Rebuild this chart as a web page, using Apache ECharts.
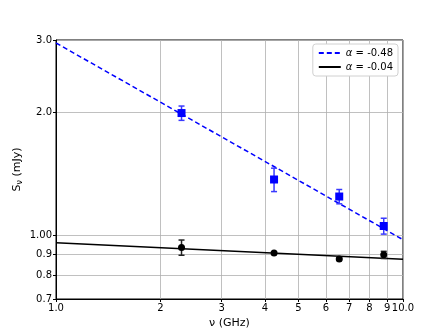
<!DOCTYPE html>
<html>
<head>
<meta charset="utf-8">
<script src="https://cdn.jsdelivr.net/npm/echarts@6/dist/echarts.min.js"></script>
<style>
  html, body { margin: 0; padding: 0; background: #fff; }
  #chart { width: 448px; height: 336px; }
</style>
</head>
<body>
<div id="chart"></div>
<script>
// measured frequencies (GHz)
var freqs = [2.3, 4.25, 6.55, 8.8];
// blue set
var blueFlux = [1.99, 1.37, 1.245, 1.055];
var blueErr = [0.08, 0.09, 0.05, 0.047];
// black set
var blackFlux = [0.935, 0.907, 0.877, 0.897];
var blackErr = [0.04, 0.006, 0.004, 0.018];
// power-law fits, evaluated at the ends of the axis
var fitX = [1, 10];
var blueFitY = [2.95, 0.977];
var blackFitY = [0.96, 0.875];
var blueLabel = '-0.48';
var blackLabel = '-0.04';
// ticks
var xTicks = [1, 2, 3, 4, 5, 6, 7, 8, 9, 10];
var yTicks = [0.7, 0.8, 0.9, 1, 2, 3];
var yTickLabels = ['0.7', '0.8', '0.9', '1.00', '2.0', '3.0'];

function pairs(xs, ys) {
    return xs.map(function (x, i) { return [x, ys[i]]; });
}
function triples(xs, ys, es) {
    return xs.map(function (x, i) { return [x, ys[i], es[i]]; });
}

function errorBars(color) {
    return function (params, api) {
        var x = api.value(0), y = api.value(1), e = api.value(2);
        var lo = api.coord([x, y - e]);
        var hi = api.coord([x, y + e]);
        var cap = 3;
        var style = { stroke: color, lineWidth: 1.5 };
        return {
            type: 'group',
            children: [
                { type: 'line', shape: { x1: lo[0], y1: lo[1], x2: hi[0], y2: hi[1] }, style: style },
                { type: 'line', shape: { x1: lo[0] - cap, y1: lo[1], x2: lo[0] + cap, y2: lo[1] }, style: style },
                { type: 'line', shape: { x1: hi[0] - cap, y1: hi[1], x2: hi[0] + cap, y2: hi[1] }, style: style }
            ]
        };
    };
}

var font = 'DejaVu Sans';
var chart = echarts.init(document.getElementById('chart'), null, { renderer: 'canvas' });

chart.setOption({
    animation: false,
    textStyle: { fontFamily: font },
    grid: {
        left: 56, right: 45, top: 40, bottom: 37,
        show: true, borderColor: '#000', borderWidth: 1, backgroundColor: 'transparent'
    },
    legend: {
        right: 50, top: 44,
        orient: 'vertical',
        data: ['blue', 'black'],
        itemWidth: 22, itemHeight: 8, itemGap: 4,
        padding: [4, 5, 4, 5],
        borderColor: '#d0d0d0', borderWidth: 1, borderRadius: 3,
        backgroundColor: '#fff',
        itemStyle: { opacity: 0 },
        formatter: function (name) {
            return '{i|α} = ' + (name === 'blue' ? blueLabel : blackLabel);
        },
        textStyle: {
            fontFamily: font, fontSize: 10, color: '#000',
            rich: { i: { fontFamily: font, fontSize: 10, fontStyle: 'italic', color: '#000' } }
        }
    },
    xAxis: {
        type: 'log', min: 1, max: 10,
        name: 'ν (GHz)', nameLocation: 'middle', nameGap: 19,
        nameTextStyle: { fontFamily: font, fontSize: 11, color: '#000' },
        axisLine: { show: true, lineStyle: { color: '#000', width: 1 } },
        axisTick: { show: true, length: 3, lineStyle: { color: '#000' }, customValues: xTicks },
        axisLabel: {
            color: '#000', fontSize: 10, fontFamily: font, margin: 4,
            customValues: xTicks,
            formatter: function (v) { return (v === 1 || v === 10) ? v.toFixed(1) : String(Math.round(v)); }
        },
        splitLine: { show: true, lineStyle: { color: '#b0b0b0', width: 0.8 } }
    },
    yAxis: {
        type: 'log', min: 0.7, max: 3,
        name: 'S{s|ν} (mJy)', nameLocation: 'middle', nameGap: 32, nameRotate: 90,
        nameMoveOverlap: false,
        nameTextStyle: {
            fontFamily: font, fontSize: 11, color: '#000',
            rich: { s: { fontFamily: font, fontSize: 8, color: '#000', verticalAlign: 'bottom', padding: [6, 0, 0, 0] } }
        },
        axisLine: { show: true, lineStyle: { color: '#000', width: 1 } },
        axisTick: { show: true, length: 3, lineStyle: { color: '#000' }, customValues: yTicks },
        axisLabel: {
            color: '#000', fontSize: 10, fontFamily: font, margin: 4,
            customValues: yTicks,
            formatter: function (v) {
                var i = yTicks.findIndex(function (t) { return Math.abs(t - v) < 1e-6; });
                return i >= 0 ? yTickLabels[i] : '';
            }
        },
        splitLine: { show: true, lineStyle: { color: '#b0b0b0', width: 0.8 } }
    },
    series: [
        {
            name: 'blue', type: 'line', data: pairs(fitX, blueFitY),
            symbol: 'none', z: 3,
            lineStyle: { color: '#0000ff', width: 1.5, type: [5, 3] },
            itemStyle: { color: '#0000ff' }
        },
        {
            name: 'black', type: 'line', data: pairs(fitX, blackFitY),
            symbol: 'none', z: 3,
            lineStyle: { color: '#000', width: 1.5 },
            itemStyle: { color: '#000' }
        },
        {
            name: 'blueErr', type: 'custom', z: 4,
            renderItem: errorBars('#3a3aff'),
            encode: { x: 0, y: 1 },
            data: triples(freqs, blueFlux, blueErr)
        },
        {
            name: 'blackErr', type: 'custom', z: 4,
            renderItem: errorBars('#222'),
            encode: { x: 0, y: 1 },
            data: triples(freqs, blackFlux, blackErr)
        },
        {
            name: 'bluePts', type: 'scatter', z: 5,
            symbol: 'rect', symbolSize: 8,
            itemStyle: { color: '#0000ff', opacity: 1 },
            data: pairs(freqs, blueFlux)
        },
        {
            name: 'blackPts', type: 'scatter', z: 5,
            symbol: 'circle', symbolSize: 7,
            itemStyle: { color: '#000', opacity: 1 },
            data: pairs(freqs, blackFlux)
        }
    ]
});
</script>
</body>
</html>
